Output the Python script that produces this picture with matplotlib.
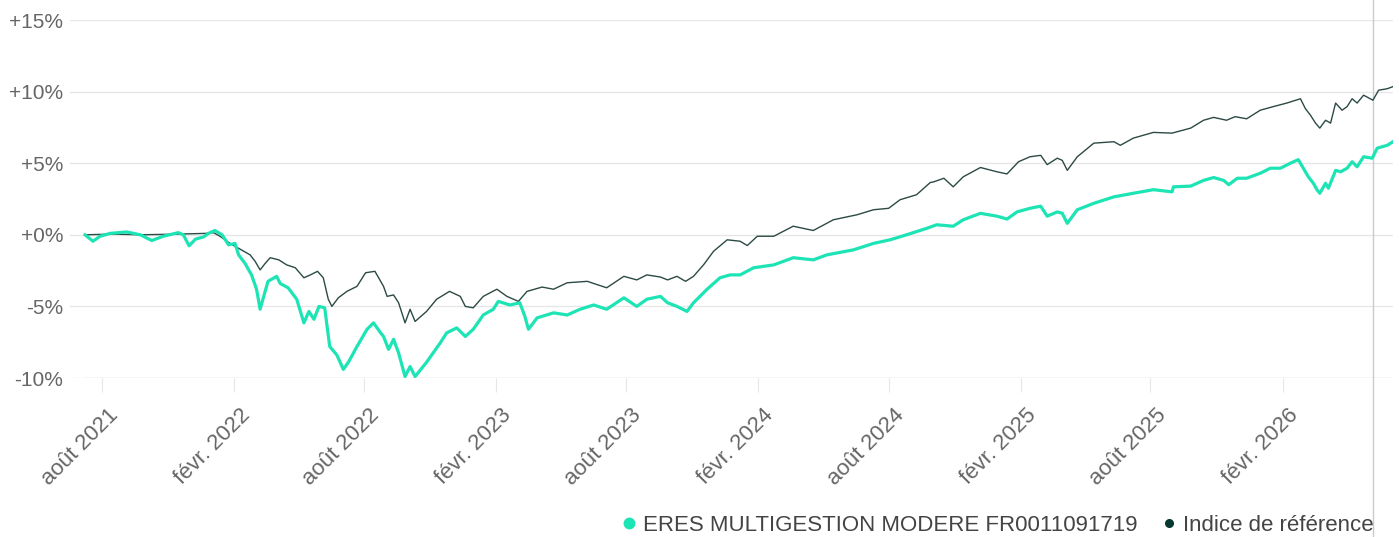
import matplotlib
matplotlib.use("Agg")
import matplotlib.pyplot as plt
from matplotlib.lines import Line2D
from matplotlib.transforms import blended_transform_factory, ScaledTranslation
import pandas as pd

# ---------------- data ----------------
fund_dates = [
    "2021-07-08", "2021-07-19", "2021-07-29", "2021-08-12", "2021-09-04", "2021-09-23",
    "2021-10-09", "2021-10-25", "2021-11-15", "2021-11-22", "2021-11-30", "2021-12-09",
    "2021-12-20", "2021-12-27", "2022-01-05", "2022-01-15", "2022-01-24", "2022-02-02",
    "2022-02-07", "2022-02-16", "2022-02-25", "2022-03-04", "2022-03-09", "2022-03-14",
    "2022-03-20", "2022-04-01", "2022-04-06", "2022-04-17", "2022-04-29", "2022-05-09",
    "2022-05-16", "2022-05-23", "2022-05-30", "2022-06-07", "2022-06-14", "2022-06-24",
    "2022-07-03", "2022-07-10", "2022-07-22", "2022-08-05", "2022-08-14", "2022-08-24",
    "2022-08-28", "2022-09-04", "2022-09-11", "2022-09-18", "2022-09-27", "2022-10-04",
    "2022-10-11", "2022-10-27", "2022-11-15", "2022-11-24", "2022-12-08", "2022-12-20",
    "2022-12-31", "2023-01-14", "2023-01-28", "2023-02-04", "2023-02-20", "2023-03-06",
    "2023-03-13", "2023-03-18", "2023-03-30", "2023-04-22", "2023-05-11", "2023-05-29",
    "2023-06-17", "2023-07-05", "2023-07-29", "2023-08-16", "2023-08-30", "2023-09-18",
    "2023-09-28", "2023-10-11", "2023-10-25", "2023-11-03", "2023-11-22", "2023-12-10",
    "2023-12-24", "2024-01-07", "2024-01-26", "2024-02-23", "2024-03-21", "2024-04-18",
    "2024-05-07", "2024-06-13", "2024-07-11", "2024-08-03", "2024-08-26", "2024-09-23",
    "2024-10-07", "2024-10-30", "2024-11-13", "2024-12-07", "2024-12-30", "2025-01-13",
    "2025-01-27", "2025-02-14", "2025-03-01", "2025-03-10", "2025-03-24", "2025-03-31",
    "2025-04-07", "2025-04-21", "2025-05-14", "2025-06-11", "2025-07-08", "2025-08-05",
    "2025-08-31", "2025-09-02", "2025-09-26", "2025-10-14", "2025-10-28", "2025-11-11",
    "2025-11-18", "2025-11-30", "2025-12-13", "2026-01-01", "2026-01-15", "2026-01-29",
    "2026-02-12", "2026-02-23", "2026-03-02", "2026-03-09", "2026-03-16", "2026-03-21",
    "2026-03-25", "2026-04-02", "2026-04-06", "2026-04-16", "2026-04-23", "2026-05-02",
    "2026-05-09", "2026-05-16", "2026-05-25", "2026-06-06", "2026-06-13", "2026-06-27",
    "2026-07-05",
]
fund_values = [
    0.0, -0.45, -0.1, 0.1, 0.2, 0.0,
    -0.4, -0.1, 0.15, 0.0, -0.77, -0.3,
    -0.15, 0.1, 0.3, 0.0, -0.7, -0.6,
    -1.4, -2.0, -2.8, -3.8, -5.2, -4.3,
    -3.25, -2.9, -3.4, -3.7, -4.5, -6.15,
    -5.35, -5.9, -5.0, -5.1, -7.8, -8.4,
    -9.4, -8.9, -7.8, -6.6, -6.15, -6.85,
    -7.1, -8.0, -7.3, -8.25, -9.9, -9.2,
    -9.9, -8.9, -7.55, -6.85, -6.5, -7.1,
    -6.6, -5.6, -5.2, -4.65, -4.9, -4.75,
    -5.7, -6.6, -5.8, -5.45, -5.6, -5.2,
    -4.9, -5.2, -4.4, -5.0, -4.5, -4.3,
    -4.75, -5.0, -5.35, -4.75, -3.8, -3.0,
    -2.8, -2.8, -2.3, -2.1, -1.6, -1.75,
    -1.4, -1.05, -0.6, -0.35, 0.0, 0.45,
    0.7, 0.6, 1.05, 1.5, 1.3, 1.1,
    1.6, 1.85, 2.0, 1.3, 1.6, 1.5,
    0.8, 1.75, 2.2, 2.65, 2.9, 3.15,
    3.0, 3.35, 3.4, 3.8, 4.0, 3.8,
    3.5, 3.95, 3.95, 4.3, 4.65, 4.65,
    5.0, 5.25, 4.65, 4.05, 3.6, 3.15,
    2.9, 3.6, 3.25, 4.5, 4.4, 4.65,
    5.1, 4.75, 5.45, 5.35, 6.05, 6.25,
    6.5,
]

ref_dates = [
    "2021-07-08", "2021-08-16", "2021-09-23", "2021-11-17", "2021-12-24", "2022-01-03",
    "2022-01-12", "2022-01-26", "2022-02-09", "2022-02-23", "2022-03-02", "2022-03-09",
    "2022-03-16", "2022-03-23", "2022-04-04", "2022-04-15", "2022-04-27", "2022-05-09",
    "2022-05-18", "2022-05-28", "2022-06-05", "2022-06-12", "2022-06-17", "2022-06-26",
    "2022-07-08", "2022-07-22", "2022-08-03", "2022-08-16", "2022-08-24", "2022-08-28",
    "2022-09-02", "2022-09-11", "2022-09-18", "2022-09-27", "2022-10-04", "2022-10-11",
    "2022-10-27", "2022-11-10", "2022-11-28", "2022-12-13", "2022-12-20", "2022-12-31",
    "2023-01-14", "2023-02-02", "2023-02-16", "2023-03-04", "2023-03-16", "2023-04-06",
    "2023-04-22", "2023-05-11", "2023-06-08", "2023-07-05", "2023-07-29", "2023-08-16",
    "2023-08-30", "2023-09-18", "2023-09-28", "2023-10-11", "2023-10-23", "2023-11-03",
    "2023-11-17", "2023-12-01", "2023-12-20", "2024-01-07", "2024-01-17", "2024-01-31",
    "2024-02-23", "2024-03-21", "2024-04-18", "2024-05-16", "2024-06-18", "2024-07-11",
    "2024-08-01", "2024-08-17", "2024-09-09", "2024-09-28", "2024-10-03", "2024-10-17",
    "2024-10-30", "2024-11-13", "2024-12-07", "2024-12-30", "2025-01-13", "2025-01-29",
    "2025-02-14", "2025-03-01", "2025-03-10", "2025-03-24", "2025-03-31", "2025-04-07",
    "2025-04-21", "2025-05-14", "2025-06-11", "2025-06-20", "2025-07-08", "2025-08-05",
    "2025-08-31", "2025-09-26", "2025-10-14", "2025-10-28", "2025-11-15", "2025-11-27",
    "2025-12-13", "2026-01-01", "2026-01-19", "2026-02-07", "2026-02-26", "2026-03-05",
    "2026-03-12", "2026-03-19", "2026-03-25", "2026-04-02", "2026-04-09", "2026-04-16",
    "2026-04-25", "2026-05-02", "2026-05-09", "2026-05-16", "2026-05-25", "2026-06-07",
    "2026-06-15", "2026-06-27", "2026-07-05",
]
ref_values = [
    0.0, 0.05, 0.0, 0.05, 0.1, 0.15,
    -0.1, -0.6, -1.0, -1.4, -1.85, -2.45,
    -2.0, -1.6, -1.75, -2.1, -2.3, -3.0,
    -2.8, -2.55, -3.0, -4.5, -5.0, -4.4,
    -3.95, -3.6, -2.65, -2.55, -3.25, -3.6,
    -4.3, -4.2, -4.75, -6.15, -5.2, -6.05,
    -5.35, -4.5, -3.95, -4.3, -5.0, -5.1,
    -4.3, -3.8, -4.3, -4.65, -3.95, -3.65,
    -3.8, -3.35, -3.25, -3.7, -2.9, -3.15,
    -2.8, -2.95, -3.15, -2.9, -3.25, -2.9,
    -2.1, -1.15, -0.35, -0.45, -0.75, -0.1,
    -0.1, 0.6, 0.3, 1.05, 1.4, 1.75,
    1.85, 2.45, 2.8, 3.65, 3.7, 3.95,
    3.35, 4.05, 4.7, 4.4, 4.25, 5.1,
    5.45, 5.55, 4.9, 5.35, 5.2, 4.5,
    5.45, 6.4, 6.5, 6.25, 6.75, 7.15,
    7.1, 7.45, 8.0, 8.2, 8.0, 8.25,
    8.1, 8.7, 8.95, 9.2, 9.5, 8.8,
    8.35, 7.8, 7.45, 8.0, 7.8, 9.2,
    8.7, 8.95, 9.5, 9.2, 9.75, 9.4,
    10.1, 10.2, 10.35,
]

tick_dates = ["2021-08-01", "2022-02-01", "2022-08-01", "2023-02-01", "2023-08-01",
              "2024-02-01", "2024-08-01", "2025-02-01", "2025-08-01", "2026-02-01"]
tick_labels = ["août 2021", "févr. 2022", "août 2022", "févr. 2023", "août 2023",
               "févr. 2024", "août 2024", "févr. 2025", "août 2025", "févr. 2026"]
y_ticks = [-10, -5, 0, 5, 10, 15]
y_labels = ["-10%", "-5%", "+0%", "+5%", "+10%", "+15%"]
fund_name = "ERES MULTIGESTION MODERE FR0011091719"
ref_name = "Indice de référence"
hover_date = "2026-06-07"

# ---------------- styling ----------------
FUND_COLOR = "#1de4b4"
REF_COLOR = "#2c4a45"
REF_DOT = "#06382f"
GRID = "#e6e6e6"
TEXT = "#666666"
plt.rcParams["font.family"] = ["Liberation Sans", "DejaVu Sans"]

W, H = 1399, 537
fig = plt.figure(figsize=(W / 100, H / 100), dpi=100)
ax_left, ax_right, ax_top, ax_bottom = 70, 1393, 20, 378
ax = fig.add_axes([ax_left / W, 1 - ax_bottom / H, (ax_right - ax_left) / W, (ax_bottom - ax_top) / H])

fd = pd.to_datetime(fund_dates)
rd = pd.to_datetime(ref_dates)

ax.plot(rd, ref_values, color=REF_COLOR, lw=1.0, zorder=3, solid_joinstyle="round")
ax.plot(fd, fund_values, color=FUND_COLOR, lw=2.3, zorder=4, solid_joinstyle="round")

x0 = fd[0] - pd.Timedelta(days=21)
x1 = fd[-1]
ax.set_xlim(x0, x1)
ax.set_ylim(-10, 15)

for s in ax.spines.values():
    s.set_visible(False)

ax.set_yticks(y_ticks)
ax.set_yticklabels(y_labels)
ax.yaxis.grid(True, color=GRID, lw=0.9)
ax.tick_params(axis="y", length=0, pad=5, labelsize=15, labelcolor=TEXT)
ax.set_axisbelow(True)

# bottom axis line starting at the first data point
ax.hlines(-10, fd[0], x1, color="#d3d3d3", lw=0.9, zorder=2)

ax.set_xticks(pd.to_datetime(tick_dates))
ax.set_xticklabels(tick_labels, rotation=45, ha="right", va="top", rotation_mode="anchor")
ax.tick_params(axis="x", length=10, width=0.8, color=GRID, labelsize=16, labelcolor=TEXT, pad=4)
offset = ScaledTranslation(5 / 100, -7 / 100, fig.dpi_scale_trans)
for lab in ax.get_xticklabels():
    lab.set_rotation_mode("anchor")
    lab.set_transform(lab.get_transform() + offset)

# hover line
tr = blended_transform_factory(ax.transData, fig.transFigure)
hd = pd.to_datetime(hover_date)
ax.plot([hd, hd], [0, 1], transform=tr, color="#c6cad4", lw=1.0, clip_on=False, zorder=1)

handles = [
    Line2D([], [], marker="o", ls="none", color=FUND_COLOR, markersize=7.5),
    Line2D([], [], marker="o", ls="none", color=REF_DOT, markersize=5.5),
]
leg = fig.legend(handles, [fund_name, ref_name], loc="lower right",
                 bbox_to_anchor=(1385 / W, -10 / H), ncol=2, frameon=False,
                 fontsize=16, handletextpad=0.15, columnspacing=0.9,
                 handlelength=1.0, borderaxespad=0.1)
for t in leg.get_texts():
    t.set_color("#444444")

fig.savefig("out.png", dpi=100)
